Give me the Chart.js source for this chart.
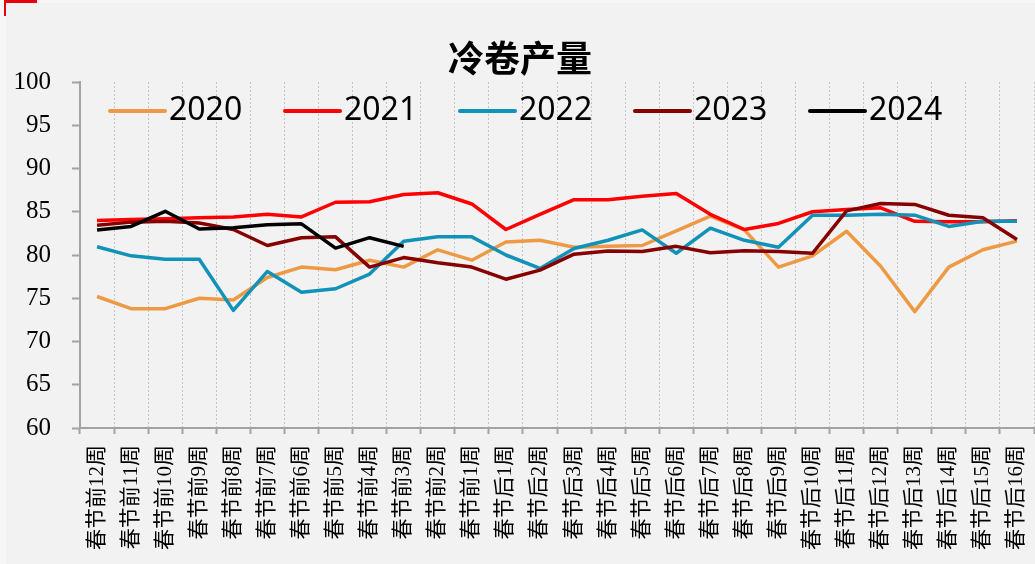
<!DOCTYPE html>
<html>
<head>
<meta charset="utf-8">
<script src="https://cdn.jsdelivr.net/npm/chart.js@4/dist/chart.umd.min.js"></script>
<style>
  html, body { margin: 0; padding: 0; background: #f6f6f6; }
  #panel { position: absolute; left: 6px; top: 3px; width: 1029px; height: 561px; background: #f2f2f2; }
  #markH { position: absolute; left: 4px; top: 0; width: 33px; height: 3px; background: #e8000f; }
  #markV { position: absolute; left: 4px; top: 0; width: 2px; height: 16px; background: #e8000f; }
  #box { position: absolute; left: 0; top: 0; width: 1035px; height: 564px; }
</style>
</head>
<body>
<div id="panel"></div>
<div id="markH"></div>
<div id="markV"></div>
<div id="box"><canvas id="chart"></canvas></div>
<script>
// weeks around the Spring Festival
const weeks = [
  "春节前12周", "春节前11周", "春节前10周", "春节前9周", "春节前8周", "春节前7周",
  "春节前6周", "春节前5周", "春节前4周", "春节前3周", "春节前2周", "春节前1周",
  "春节后1周", "春节后2周", "春节后3周", "春节后4周", "春节后5周", "春节后6周",
  "春节后7周", "春节后8周", "春节后9周", "春节后10周", "春节后11周", "春节后12周",
  "春节后13周", "春节后14周", "春节后15周", "春节后16周"
];

const y2020 = [75.2, 73.8, 73.8, 75.0, 74.8, 77.4, 78.6, 78.3, 79.4, 78.6, 80.6, 79.4,
  81.5, 81.7, 80.9, 81.0, 81.1, 82.8, 84.5, 82.9, 78.6, 79.9, 82.75, 78.7, 73.45, 78.6, 80.6, 81.6];
const y2021 = [84.0, 84.1, 84.2, 84.3, 84.4, 84.7, 84.4, 86.1, 86.15, 87.0, 87.2, 85.9,
  82.95, 84.7, 86.4, 86.4, 86.8, 87.1, 84.7, 82.95, 83.65, 85.0, 85.25, 85.45, 83.9, 83.85, 83.85, 83.95];
const y2022 = [80.95, 79.9, 79.5, 79.5, 73.6, 78.1, 75.7, 76.1, 77.8, 81.6, 82.1, 82.1,
  80.0, 78.45, 80.75, 81.7, 82.9, 80.2, 83.1, 81.7, 80.9, 84.6, 84.6, 84.7, 84.6, 83.3, 83.9, 83.9];
const y2023 = [83.45, 83.8, 83.9, 83.7, 82.95, 81.1, 82.0, 82.1, 78.6, 79.7, 79.1, 78.6,
  77.2, 78.25, 80.1, 80.45, 80.4, 81.0, 80.25, 80.5, 80.4, 80.2, 85.1, 85.95, 85.85, 84.6, 84.3, 81.8];
const y2024 = [82.9, 83.3, 85.05, 83.0, 83.15, 83.5, 83.6, 80.8, 82.0, 81.0];

const yearLabels = ["2020", "2021", "2022", "2023", "2024"];
const yearColors = ["#ee9a45", "#ff0000", "#1192b8", "#860000", "#000000"];
const yearValues = [y2020, y2021, y2022, y2023, y2024];

const gridGrey = "#c4c4c4";
const axisGrey = "#a3a3a3";

// title + legend drawn on top of the plot, like the original
const overlay = {
  id: "overlay",
  afterDraw(chart) {
    const ctx = chart.ctx;
    ctx.save();
    ctx.fillStyle = "#000";
    ctx.textAlign = "center";
    ctx.textBaseline = "middle";
    ctx.font = "bold 36px 'Noto Sans CJK SC'";
    ctx.fillText("冷卷产量", 520, 58);

    ctx.font = "32px 'Noto Sans'";
    ctx.textAlign = "left";
    chart.data.datasets.forEach((ds, i) => {
      const x0 = 110 + i * 175;
      ctx.strokeStyle = ds.borderColor;
      ctx.lineWidth = 4;
      ctx.lineCap = "round";
      ctx.beginPath();
      ctx.moveTo(x0, 111);
      ctx.lineTo(x0 + 55, 111);
      ctx.stroke();
      ctx.fillText(ds.label, x0 + 59, 111);
    });
    ctx.restore();
  }
};

const datasets = yearLabels.map((label, i) => ({
  label: label,
  data: yearValues[i],
  borderColor: yearColors[i],
  backgroundColor: yearColors[i],
  borderWidth: 3.5,
  borderJoinStyle: "round",
  pointRadius: 0,
  tension: 0,
  order: yearLabels.length - i, // later years on top
}));

new Chart(document.getElementById("chart"), {
  type: "line",
  data: { labels: weeks, datasets: datasets },
  options: {
    responsive: true,
    maintainAspectRatio: false,
    animation: false,
    layout: { padding: { top: 82, left: 0, right: 1, bottom: 0 } },
    plugins: {
      legend: { display: false },
      title: { display: false },
      tooltip: { enabled: false },
    },
    scales: {
      x: {
        offset: true,
        grid: {
          offset: true,
          color: gridGrey,
          lineWidth: 1,
          tickLength: 6,
          tickColor: axisGrey,
          tickWidth: 2,
        },
        border: { color: axisGrey, width: 2, dash: [2, 2] },
        ticks: {
          autoSkip: false,
          minRotation: 90,
          maxRotation: 90,
          padding: 11,
          color: "#000",
          font: { family: "'Liberation Serif', 'Noto Sans CJK SC'", size: 21 },
        },
        afterFit(scale) {
          scale.height = 136;
          scale.paddingLeft = 0;
          scale.paddingRight = 0;
        },
      },
      y: {
        min: 60,
        max: 100,
        grid: {
          drawOnChartArea: false,
          tickLength: 8,
          tickColor: axisGrey,
          tickWidth: 2,
        },
        border: { color: axisGrey, width: 2 },
        ticks: {
          stepSize: 5,
          padding: 21,
          color: "#000",
          font: { family: "'Liberation Serif'", size: 25 },
        },
        afterFit(scale) { scale.width = 80; },
      },
    },
  },
  plugins: [overlay],
});
</script>
</body>
</html>
